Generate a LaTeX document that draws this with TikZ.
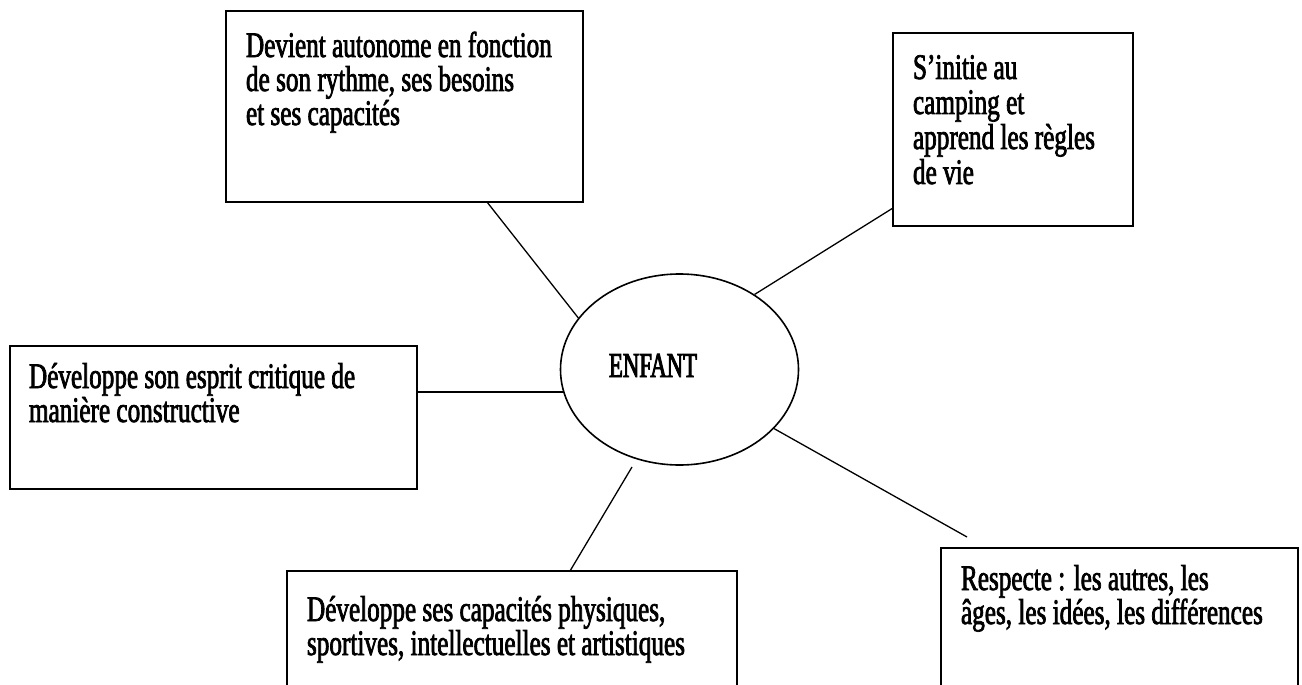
\documentclass[tikz,border=0pt]{standalone}
\usepackage{fontspec}
\setmainfont{Liberation Serif}
\newfontfamily\bfont[FakeStretch=0.70,FakeBold=2.0]{Liberation Serif}
\newfontfamily\efont[FakeStretch=0.65,FakeBold=2.6]{Liberation Serif}
\usetikzlibrary{shapes.geometric,calc}
\newcommand\tbox[2]{\parbox[t]{520pt}{\bfont\fontsize{36}{#1}\selectfont\lineskiplimit=-50pt\lineskip=0pt\raggedright #2}}
\tikzset{
  bx/.style={draw, line width=1.8pt, inner sep=0pt, outer sep=0pt, anchor=north west},
  txt/.style={inner sep=0pt, outer sep=0pt, anchor=base west},
  ln/.style={line width=1.3pt},
}
\begin{document}
\begin{tikzpicture}[x=1pt,y=-1pt]
\useasboundingbox (0,0) rectangle (1302,685);
\clip (0,0) rectangle (1302,685);
\fill[white] (0,0) rectangle (1302,685);
% boxes
\node[bx, minimum width=357pt, minimum height=191pt] (b1) at (226,11) {};
\node[bx, minimum width=240pt, minimum height=193pt] (b2) at (893,33) {};
\node[bx, minimum width=407pt, minimum height=143pt] (b3) at (10,346) {};
\node[bx, minimum width=450pt, minimum height=160pt] (b4) at (287,571) {};
\node[bx, minimum width=357pt, minimum height=180pt] (b5) at (941,548) {};
% centre
\node[draw, ellipse, line width=1.6pt, minimum width=238pt, minimum height=191pt, inner sep=0pt] (enfant) at (679.5,369.5) {};
\node[txt, font=\efont\fontsize{35}{35}\selectfont] (lbl) at (609,377) {ENFANT};
% texts
\node[txt] (t1) at (246,57) {\tbox{34}{Devient autonome en fonction\\de son rythme, ses besoins\\et ses capacités}};
\node[txt] (t2) at (913,79) {\tbox{35}{S’initie au\\camping et\\apprend les règles\\de vie}};
\node[txt] (t3) at (29,388) {\tbox{34}{Développe son esprit critique de\\manière constructive}};
\node[txt] (t4) at (307,621) {\tbox{34}{Développe ses capacités physiques,\\sportives, intellectuelles et artistiques}};
\node[txt] (t5) at (961,590) {\tbox{34}{Respecte : les autres, les\\âges, les idées, les différences}};
% connectors
\coordinate (bt) at ($(enfant.center)+(-47.5,97.5)$);
\coordinate (re) at (967,537);
\draw[ln] ($(b1.south west)+(261,0)$) -- (enfant.153);
\draw[ln] ($(b2.north west)+(0,175)$) -- (enfant.45);
\draw[ln] (b3.east |- enfant.191) -- (enfant.191);
\draw[ln] ($(b4.north west)+(283,0)$) -- (bt);
\draw[ln] (enfant.328) -- (re);
\end{tikzpicture}
\end{document}
